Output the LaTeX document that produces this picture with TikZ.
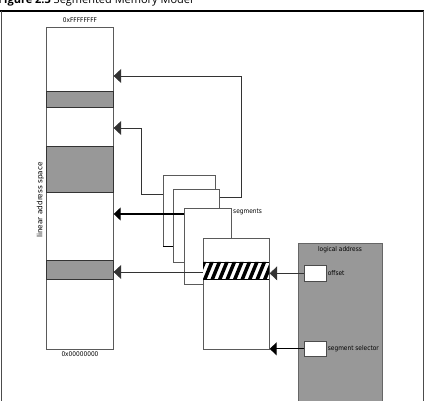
\documentclass[tikz,border=0pt]{standalone}
\usepackage{fontspec}
\setmainfont{Open Sans}
\newfontfamily\labelfont{DejaVu Sans Condensed}
\newfontfamily\axisfont{DejaVu Sans}
\usetikzlibrary{arrows.meta}

\definecolor{bandgray}{RGB}{152,152,152}
\definecolor{edgegray}{RGB}{90,90,90}

\tikzset{
  box/.style={draw=edgegray, line width=0.7pt, fill=white, anchor=north west, inner sep=0pt},
  band/.style={draw=black!80, line width=0.6pt, fill=bandgray},
  thinarrow/.style={draw=black!80, line width=0.6pt, -{Triangle[length=7.5pt,width=14pt]}},
  thickarrow/.style={draw=black, line width=1.2pt, -{Triangle[length=7pt,width=13pt]}},
  lbl/.style={font=\labelfont\fontsize{6.5}{7.5}\selectfont, inner sep=0pt},
}

\begin{document}
\begin{tikzpicture}[x=1pt, y=-1pt]
    \useasboundingbox (0,0) rectangle (429,401);

    % Caption and frame
    \node[anchor=base west, inner sep=0pt, font=\fontsize{11}{13}\selectfont] (caption) at (-2,4)
        {\textbf{Figure 2.3} Segmented Memory Model};
    \draw[line width=1.3pt] (0,11) -- (424,11);
    \draw[black!70, line width=0.6pt] (1,11) -- (1,402) (423,11) -- (423,402);

    % Linear address space
    \node[box, minimum width=67pt, minimum height=322pt] (lin) at (46,27) {};
    \draw[band] (46,91) rectangle (113,107);
    \draw[band] (46,146) rectangle (113,192);
    \draw[band] (46,260) rectangle (113,279);
    \node[lbl, anchor=base] (top) at (80,23) {0xFFFFFFFF};
    \node[lbl, anchor=base] (bottom) at (80,356) {0x00000000};
    \node[lbl, font=\axisfont\fontsize{7.3}{8}\selectfont, rotate=90, anchor=south] (space) at (44,200)
        {linear address space};

    % Segments, back to front
    \node[box, minimum width=52pt, minimum height=71pt] (seg1) at (163,175) {};
    \node[box, minimum width=46pt, minimum height=73pt] (seg2) at (173,189) {};
    \node[box, minimum width=47pt, minimum height=76pt] (seg3) at (184,208) {};
    \node[box, minimum width=66pt, minimum height=111pt] (seg4) at (203,238) {};
    \draw[black, line width=1.2pt] (seg1.south west) -- (seg2.west |- seg1.south);
    \node[lbl, anchor=west] (seglabel) at (233,212) {segments};

    % Hatched entry inside the selected segment
    \begin{scope}
        \clip (203,262) rectangle (269,279);
        \fill[white] (203,262) rectangle (269,279);
        \foreach \x in {-2,...,9}
            \fill[black] (203+7.5*\x,279) -- ++(3.8,0) -- ++(7,-17) -- ++(-3.8,0) -- cycle;
    \end{scope}
    \draw[black, line width=0.8pt] (203,262) -- (269,262) (203,279) -- (269,279);

    % Logical address
    \node[box, fill=bandgray, draw=black!60, minimum width=84pt, minimum height=170pt] (logical) at (298,243) {};
    \node[lbl, anchor=north] (logtitle) at (340,246) {logical address};
    \node[box, draw=black!70, minimum width=22pt, minimum height=16pt] (off) at (304,265) {};
    \node[box, draw=black!70, minimum width=22pt, minimum height=15pt] (sel) at (304,341) {};
    \node[lbl, anchor=west] (offtext) at ([xshift=1pt]off.east) {offset};
    \node[lbl, anchor=west] (seltext) at ([xshift=1pt]sel.east) {segment selector};

    % Segment bases into linear space
    \coordinate (s1) at ([yshift=-19pt]seg1.north west);
    \coordinate (s2) at ([yshift=-8pt]seg2.north east);
    \coordinate (s3) at ([yshift=-6pt]seg3.north west);
    \coordinate (s4) at ([yshift=-34pt]seg4.north west);
    \draw[thinarrow] (s2) -- ++(22,0) |- ([yshift=-49pt]lin.north east);
    \draw[thinarrow] (s1) -- ++(-22,0) |- ([yshift=-101pt]lin.north east);
    \draw[thickarrow] (s3) -- (s3 -| lin.east);
    \draw[thinarrow] (s4) -- (s4 -| lin.east);

    % Selector and offset into the segment
    \draw[thinarrow] (off.west) -- (off.west -| seg4.east);
    \draw[thickarrow] (sel.west) -- (sel.west -| seg4.east);
\end{tikzpicture}
\end{document}
